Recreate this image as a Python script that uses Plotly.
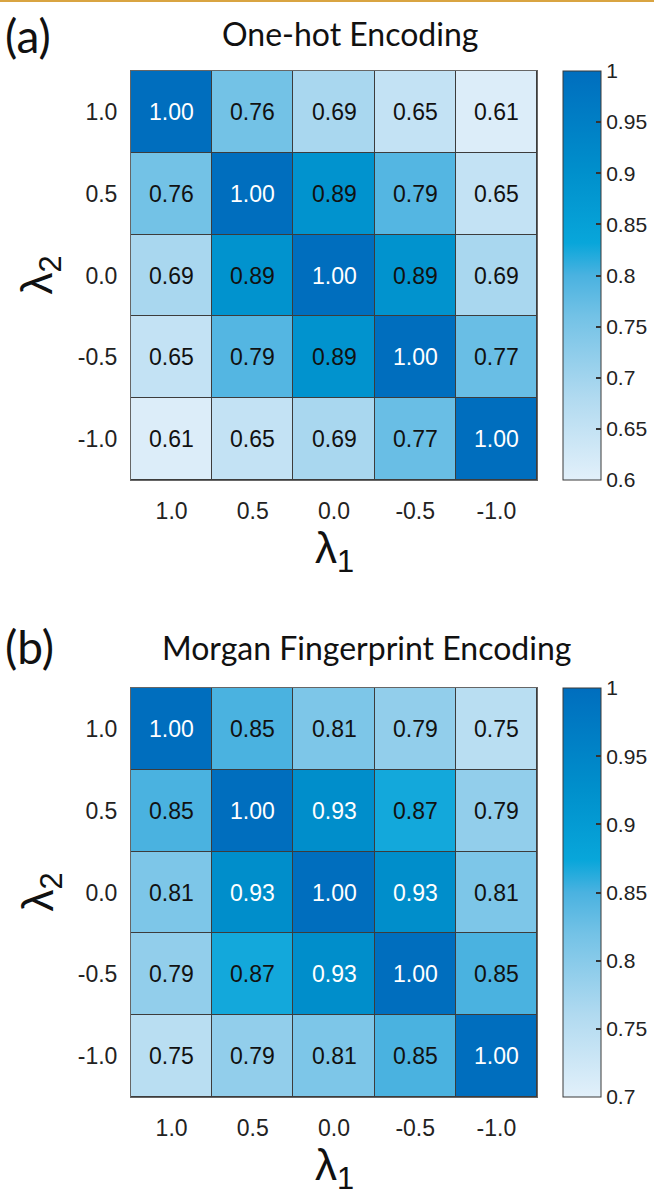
import plotly.graph_objects as go

# Axis categories
lambda1 = ["1.0", "0.5", "0.0", "-0.5", "-1.0"]
lambda2 = ["1.0", "0.5", "0.0", "-0.5", "-1.0"]

# Similarity matrices (rows: lambda2 top->bottom, cols: lambda1 left->right)
onehot = [
    [1.00, 0.76, 0.69, 0.65, 0.61],
    [0.76, 1.00, 0.89, 0.79, 0.65],
    [0.69, 0.89, 1.00, 0.89, 0.69],
    [0.65, 0.79, 0.89, 1.00, 0.77],
    [0.61, 0.65, 0.69, 0.77, 1.00],
]
morgan = [
    [1.00, 0.85, 0.81, 0.79, 0.75],
    [0.85, 1.00, 0.93, 0.87, 0.79],
    [0.81, 0.93, 1.00, 0.93, 0.81],
    [0.79, 0.87, 0.93, 1.00, 0.85],
    [0.75, 0.79, 0.81, 0.85, 1.00],
]

titles = ["One-hot Encoding", "Morgan Fingerprint Encoding"]
panel_tags = ["(a)", "(b)"]
cbar_ticks_a = [0.6, 0.65, 0.7, 0.75, 0.8, 0.85, 0.9, 0.95, 1.0]
cbar_text_a = ["0.6", "0.65", "0.7", "0.75", "0.8", "0.85", "0.9", "0.95", "1"]
cbar_ticks_b = [0.7, 0.75, 0.8, 0.85, 0.9, 0.95, 1.0]
cbar_text_b = ["0.7", "0.75", "0.8", "0.85", "0.9", "0.95", "1"]

W, H = 654, 1198


def px(x):
    return x / W


def py(y):
    return 1 - y / H


blues = [
    [0.00, "#E2F0FA"],
    [0.20, "#B1DAF0"],
    [0.40, "#73C2E6"],
    [0.50, "#4AB2E0"],
    [0.58, "#08A6DA"],
    [0.75, "#0090CC"],
    [1.00, "#006EBE"],
]

NUM_FONT = "Liberation Sans, Arial, sans-serif"
TITLE_FONT = "Lato, Open Sans, sans-serif"

xi = list(range(len(lambda1)))
yi = list(range(len(lambda2)))

fig = go.Figure()

panels = [
    dict(z=onehot, ax="", top=71, bot=480, cmin=0.6, cmax=1.0,
         tv=cbar_ticks_a, tt=cbar_text_a, title_y=33, title_x=350, tag_y=36),
    dict(z=morgan, ax="2", top=688, bot=1097, cmin=0.7, cmax=1.0,
         tv=cbar_ticks_b, tt=cbar_text_b, title_y=648, title_x=366, tag_y=646),
]

annotations = []
for i, p in enumerate(panels):
    ca = "coloraxis" + p["ax"]
    fig.add_trace(go.Heatmap(
        z=p["z"], x=xi, y=yi,
        coloraxis=ca, xgap=1, ygap=1,
        xaxis="x" + p["ax"], yaxis="y" + p["ax"],
        hoverinfo="skip",
    ))
    fig.layout[ca] = dict(
        cmin=p["cmin"], cmax=p["cmax"], colorscale=blues,
        colorbar=dict(
            x=px(563), xanchor="left", xpad=0, ypad=0,
            y=(py(p["top"]) + py(p["bot"])) / 2, yanchor="middle",
            len=(p["bot"] - p["top"]) / H, lenmode="fraction",
            thickness=38, thicknessmode="pixels",
            outlinewidth=1, outlinecolor="#3a3a3a",
            ticks="inside", ticklen=5, tickcolor="#333", tickwidth=1.5,
            tickvals=p["tv"], ticktext=p["tt"],
            tickfont=dict(family=NUM_FONT, size=21, color="#222"),
        ),
    )
    fig.layout["xaxis" + p["ax"]] = dict(
        domain=[px(131), px(537)], anchor="y" + p["ax"],
        range=[-0.5, len(xi) - 0.5],
        tickvals=xi, ticktext=lambda1,
        showline=True, mirror=True, linecolor="#666", linewidth=1,
        ticks="", ticklabelstandoff=10,
        tickfont=dict(family=NUM_FONT, size=23, color="#222"),
        showgrid=False, zeroline=False, fixedrange=True,
    )
    fig.layout["yaxis" + p["ax"]] = dict(
        domain=[py(p["bot"]), py(p["top"])], anchor="x" + p["ax"],
        range=[len(yi) - 0.5, -0.5],
        tickvals=yi, ticktext=lambda2,
        showline=True, mirror=True, linecolor="#666", linewidth=1,
        ticks="", ticklabelstandoff=8,
        tickfont=dict(family=NUM_FONT, size=23, color="#222"),
        showgrid=False, zeroline=False, fixedrange=True,
    )
    # value labels inside cells
    for r in yi:
        for c in xi:
            v = p["z"][r][c]
            annotations.append(dict(
                x=c, y=r, xref="x" + p["ax"], yref="y" + p["ax"],
                text=f"{v:.2f}", showarrow=False,
                font=dict(family=NUM_FONT, size=23,
                          color="white" if v > 0.9 else "#111"),
            ))
    # title and panel tag
    annotations.append(dict(
        x=px(p["title_x"]), y=py(p["title_y"]), xref="paper", yref="paper",
        text=titles[i], showarrow=False, xanchor="center", yanchor="middle",
        font=dict(family=TITLE_FONT, size=32, color="#111"),
    ))
    annotations.append(dict(
        x=px(3), y=py(p["tag_y"]), xref="paper", yref="paper",
        text=panel_tags[i], showarrow=False, xanchor="left", yanchor="middle",
        font=dict(family=TITLE_FONT, size=46, color="#111"),
    ))
    # axis symbols
    annotations.append(dict(
        x=px(334), y=py(p["bot"] + 71), xref="paper", yref="paper",
        text="λ<sub>1</sub>", showarrow=False, xanchor="center", yanchor="middle",
        borderpad=0,
        font=dict(family=NUM_FONT, size=44, color="#111"),
    ))
    annotations.append(dict(
        x=px(40), y=py((p["top"] + p["bot"]) / 2), xref="paper", yref="paper",
        text="λ<sub>2</sub>", showarrow=False, textangle=-90,
        xanchor="center", yanchor="middle",
        font=dict(family=NUM_FONT, size=44, color="#111"),
    ))

fig.update_layout(
    width=W, height=H, margin=dict(l=0, r=0, t=0, b=0),
    paper_bgcolor="white", plot_bgcolor="#3c3c3c",
    annotations=annotations, showlegend=False,
    shapes=[dict(type="line", xref="paper", yref="paper",
                 x0=0, x1=1, y0=py(1), y1=py(1),
                 line=dict(color="#D9A441", width=2))],
)

fig.write_html("out.html")
